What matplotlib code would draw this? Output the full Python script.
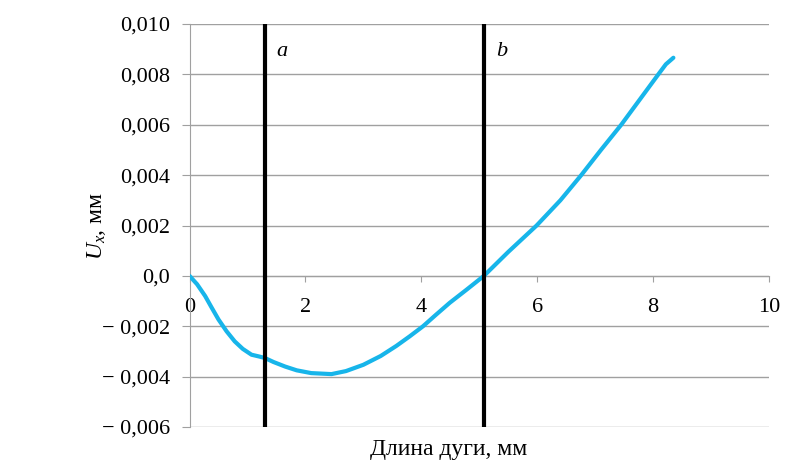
import matplotlib.pyplot as plt

plt.rcParams['font.family'] = ['Liberation Serif', 'DejaVu Serif']
plt.rcParams['mathtext.fontset'] = 'custom'
plt.rcParams['mathtext.it'] = 'Liberation Serif:italic'
plt.rcParams['mathtext.rm'] = 'Liberation Serif'

# arc length, mm
arc = [0, 0.13, 0.27, 0.38, 0.5, 0.64, 0.78, 0.92, 1.07, 1.2, 1.3, 1.45,
       1.65, 1.85, 2.1, 2.45, 2.7, 3.0, 3.3, 3.57, 3.8, 4.03, 4.25, 4.49,
       4.78, 5.08, 5.5, 5.99, 6.4, 6.76, 7.1, 7.45, 7.77, 8.09, 8.22, 8.35]
# displacement U_x, mm
ux = [0, -0.00033, -0.0008, -0.00125, -0.00173, -0.0022, -0.0026, -0.0029,
      -0.00313, -0.0032, -0.00326, -0.00342, -0.0036, -0.00375, -0.00386,
      -0.0039, -0.00378, -0.00353, -0.00318, -0.00278, -0.0024, -0.002,
      -0.00155, -0.00107, -0.00055, 0.0, 0.00095, 0.002, 0.003, 0.004,
      0.005, 0.006, 0.007, 0.008, 0.0084, 0.00866]

marks = [1.3, 5.08]
mark_labels = ['a', 'b']

yticks = [-0.006, -0.004, -0.002, 0.0, 0.002, 0.004, 0.006, 0.008, 0.010]
ytick_labels = ['\u2212 0,006', '\u2212 0,004', '\u2212 0,002', '0,0',
                '0,002', '0,004', '0,006', '0,008', '0,010']
xticks = [0, 2, 4, 6, 8, 10]

grey = '#a0a0a0'

fig = plt.figure(figsize=(8.06, 4.72), dpi=100)
ax = fig.add_axes([189.5 / 806, 1 - 427 / 472, (769 - 189.5) / 806, (427 - 24) / 472])

ax.set_xlim(0, 10)
ax.set_ylim(-0.006, 0.010)

ax.set_yticks(yticks)
ax.set_yticklabels(ytick_labels)
ax.set_xticks(xticks)
ax.set_xticklabels([str(t) for t in xticks])

for t in yticks:
    ax.axhline(t, color=grey, lw=1.0, zorder=1)

ax.plot(arc, ux, color='#17b5ea', lw=3.0, solid_capstyle='round',
        solid_joinstyle='round', zorder=3)

for xm, lab in zip(marks, mark_labels):
    ax.axvline(xm, color='black', lw=3.0, zorder=4)
    ax.text(xm + 0.3, 0.0089, lab, fontsize=16, style='italic',
            ha='center', va='center')

for s in ['top', 'right']:
    ax.spines[s].set_visible(False)
ax.spines['left'].set_color(grey)
ax.spines['bottom'].set_position(('data', 0))
ax.spines['bottom'].set_color(grey)

ax.tick_params(axis='y', length=6, color=grey, labelsize=16, pad=8)
ax.tick_params(axis='x', length=4, color=grey, labelsize=16, pad=12)

ax.set_ylabel('$U_x$, мм', fontsize=17)
ax.yaxis.set_label_coords(-0.14, 0.5)
fig.text(449 / 806, 1 - 450 / 472, 'Длина дуги, мм', fontsize=17,
         ha='center', va='center')

fig.savefig('out.png', dpi=100)
